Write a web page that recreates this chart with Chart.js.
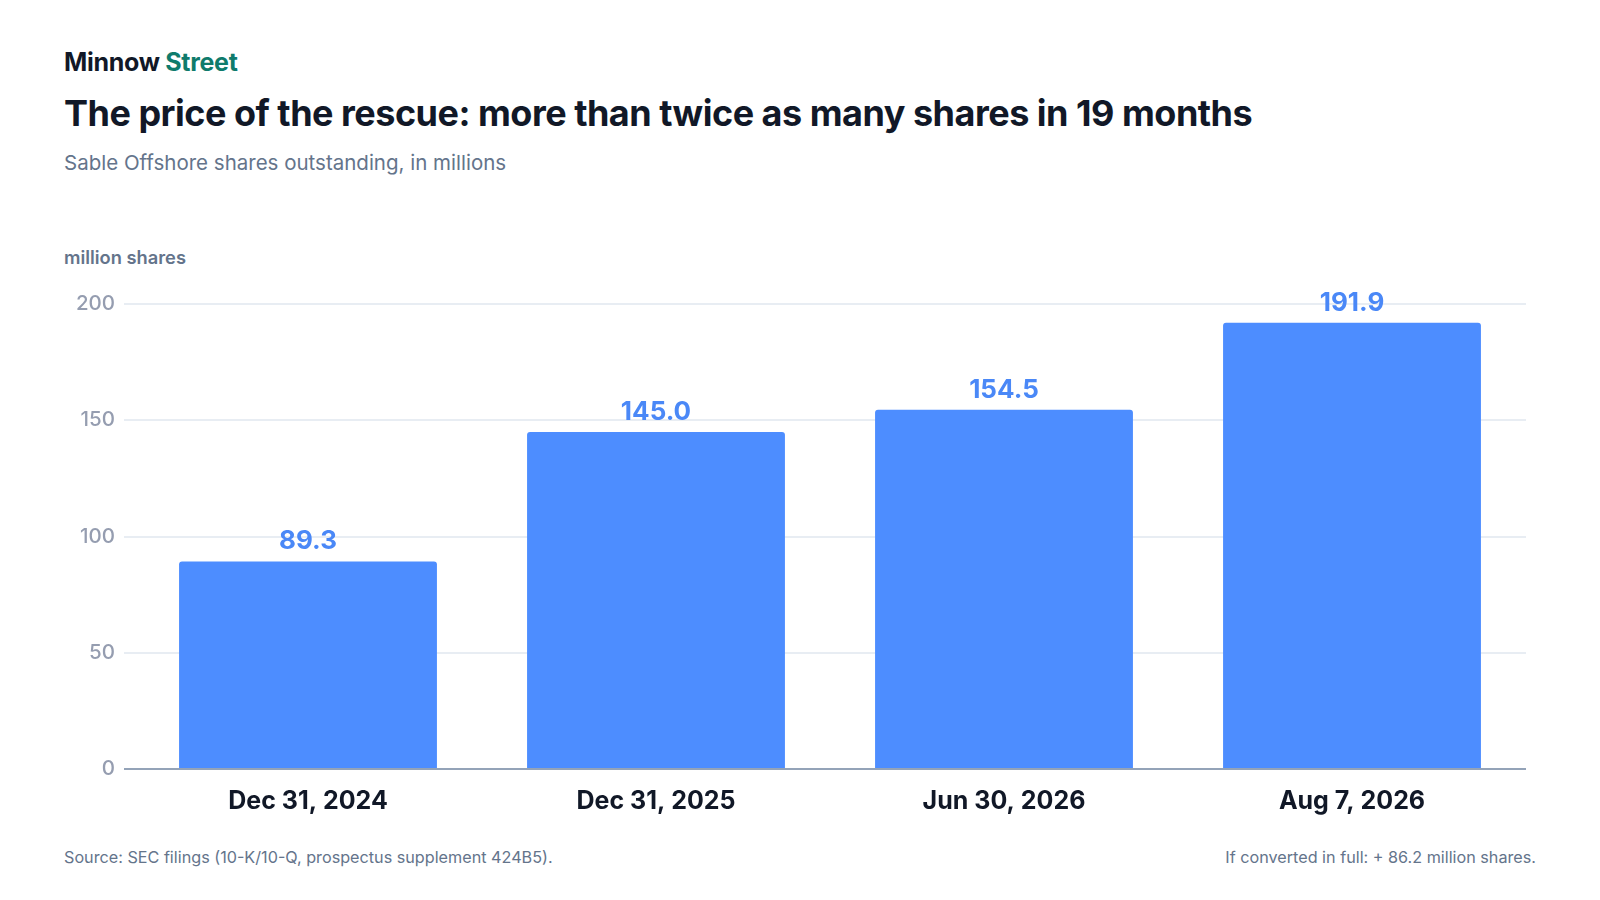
<!DOCTYPE html>
<html>
<head>
<meta charset="utf-8">
<script src="https://cdn.jsdelivr.net/npm/chart.js@4"></script>
<style>
  html, body { margin: 0; padding: 0; background: #ffffff; }
  body { width: 1600px; height: 900px; position: relative; font-family: Inter, "Noto Sans", sans-serif; overflow: hidden; }
  .brand { position: absolute; left: 64px; top: 47px; font-size: 25px; font-weight: 700; color: #111827; letter-spacing: -0.3px; }
  .brand span { color: #0f7b6c; }
  .title { position: absolute; left: 64px; top: 91px; font-size: 36px; font-weight: 700; color: #111827; letter-spacing: -0.5px; }
  .subtitle { position: absolute; left: 64px; top: 150px; font-size: 20.5px; color: #64748b; }
  .unit { position: absolute; left: 64px; top: 246px; font-size: 18.3px; font-weight: 600; color: #64748b; }
  .foot { position: absolute; top: 847px; font-size: 16.2px; color: #64748b; }
  #wrap { position: absolute; left: 64px; top: 280px; width: 1462px; height: 553px; }
</style>
</head>
<body>
<div class="brand">Minnow <span>Street</span></div>
<div class="title">The price of the rescue: more than twice as many shares in 19 months</div>
<div class="subtitle">Sable Offshore shares outstanding, in millions</div>
<div class="unit">million shares</div>
<div id="wrap"><canvas id="mainChart"></canvas></div>
<div class="foot" style="left:64px;">Source: SEC filings (10-K/10-Q, prospectus supplement 424B5).</div>
<div class="foot" style="right:64px;">If converted in full: + 86.2 million shares.</div>
<script>
// Data
var dates = ["Dec 31, 2024", "Dec 31, 2025", "Jun 30, 2026", "Aug 7, 2026"];
var shares = [89.3, 145.0, 154.5, 191.9];
var yTicks = [0, 50, 100, 150, 200];

// value labels above each bar
var barLabels = {
    id: 'barLabels',
    afterDatasetsDraw: function(chart) {
        var ctx = chart.ctx;
        var meta = chart.getDatasetMeta(0);
        ctx.save();
        ctx.font = "700 26px Inter";
        ctx.fillStyle = "#4a88f7";
        ctx.textAlign = "center";
        ctx.textBaseline = "alphabetic";
        meta.data.forEach(function(bar, i) {
            ctx.fillText(shares[i].toFixed(1), bar.x, bar.y - 12);
        });
        ctx.restore();
    }
};

// zero line is the dark axis line, the rest are light gridlines
function gridColor(c) { return c.tick && c.tick.value === 0 ? '#94a3b8' : '#e8edf3'; }

var ctx = document.getElementById('mainChart').getContext('2d');
var chart = new Chart(ctx, {
    type: 'bar',
    data: {
        labels: dates,
        datasets: [{
            data: shares,
            backgroundColor: '#4d8dff',
            borderRadius: { topLeft: 3, topRight: 3 },
            borderSkipped: 'bottom',
            barPercentage: 0.741,
            categoryPercentage: 1.0
        }]
    },
    options: {
        responsive: true,
        maintainAspectRatio: false,
        animation: false,
        layout: { padding: { top: 24, left: 0, right: 0, bottom: 0 } },
        plugins: {
            legend: { display: false },
            tooltip: { enabled: false }
        },
        scales: {
            x: {
                grid: { display: false, drawTicks: false },
                border: { display: true, color: '#94a3b8', width: 2, z: 1 },
                ticks: {
                    color: '#111827',
                    font: { family: 'Inter', size: 25, weight: '700' },
                    padding: 17
                }
            },
            y: {
                min: 0,
                max: 200,
                afterBuildTicks: function(scale) {
                    scale.ticks = yTicks.map(function(v) { return { value: v }; });
                },
                afterFit: function(scale) { scale.width = 70; },
                grid: {
                    color: gridColor,
                    tickColor: gridColor,
                    lineWidth: 2,
                    drawTicks: true,
                    tickLength: 10
                },
                border: { display: false },
                ticks: {
                    color: '#959db0',
                    font: { family: 'Inter', size: 20.5, weight: '500' },
                    padding: 9
                }
            }
        }
    },
    plugins: [barLabels]
});
</script>
</body>
</html>
